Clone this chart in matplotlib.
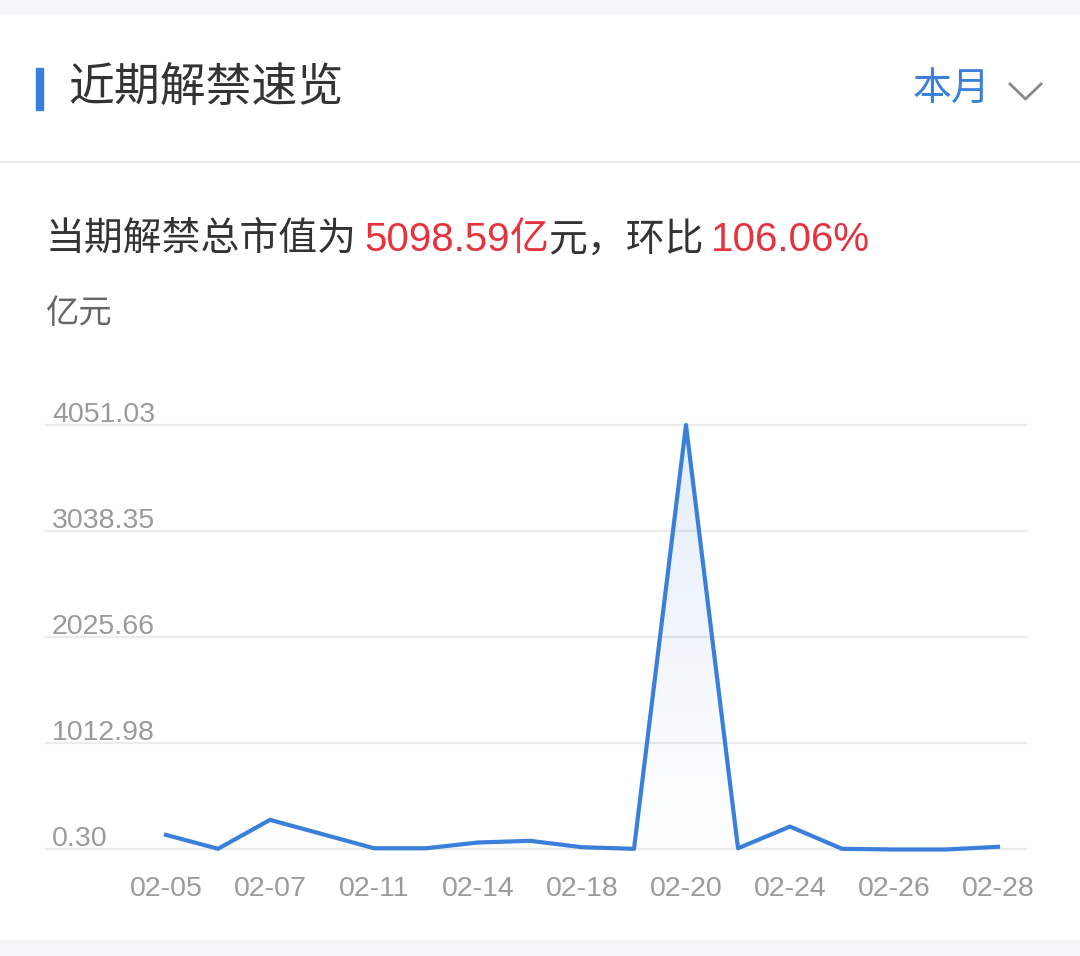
import matplotlib
matplotlib.use('Agg')
import matplotlib.pyplot as plt
import numpy as np
from matplotlib.patches import Rectangle
from matplotlib.lines import Line2D

# ---------------- data ----------------
dates = ['02-05', '02-06', '02-07', '02-10', '02-11', '02-13', '02-14', '02-17', '02-18',
         '02-19', '02-20', '02-21', '02-24', '02-25', '02-26', '02-27', '02-28']
values = [140, 7, 283, 148, 12, 12, 67, 83, 22, 7, 4051.03, 12, 219, 7, 0.30, 0.30, 26]
shown_labels = ['02-05', '02-07', '02-11', '02-14', '02-18', '02-20', '02-24', '02-26', '02-28']
y_ticks = [0.30, 1012.98, 2025.66, 3038.35, 4051.03]
y_tick_labels = ['0.30', '1012.98', '2025.66', '3038.35', '4051.03']
title = '近期解禁速览'
period = '本月'
unit = '亿元'
subtitle_parts = [('当期解禁总市值为', '#333333'), ('5098.59', '#e5323e'), ('亿', '#e5323e'),
                  ('元，环比', '#333333'), ('106.06%', '#e5323e')]

# ---------------- style ----------------
W, H = 1080, 956
BLUE = '#3a7fd9'
FAM = ['Liberation Sans', 'Noto Sans CJK SC', 'DejaVu Sans']
plt.rcParams['font.family'] = FAM

fig = plt.figure(figsize=(W / 100, H / 100), dpi=100)
fig.patch.set_facecolor('white')


def fx(x):
    return x / W


def fy(y):
    return 1 - y / H


# background strips
fig.patches.append(Rectangle((0, fy(13)), 1, 13 / H, transform=fig.transFigure,
                             color='#f5f6f8', zorder=0))
fig.patches.append(Rectangle((0, 0), 1, 16 / H, transform=fig.transFigure,
                             color='#f5f6f8', zorder=0))
# separator
fig.lines.append(Line2D([0, 1], [fy(162), fy(162)], transform=fig.transFigure,
                        color='#ececec', lw=1.5))
# header bar + title
fig.patches.append(Rectangle((fx(35.5), fy(110)), 7.5 / W, 42 / H, transform=fig.transFigure,
                             color=BLUE, zorder=2))
fig.text(fx(68), fy(90), title, fontsize=33, color='#333333', va='center', ha='left')
fig.text(fx(913), fy(90), period, fontsize=28, color=BLUE, va='center', ha='left')
fig.lines.append(Line2D([fx(1010), fx(1025.5), fx(1041)], [fy(84), fy(99), fy(84)],
                        transform=fig.transFigure, color='#8a8a8a', lw=2))

# subtitle (multi-colour)
renderer = fig.canvas.get_renderer()
xcur = 46
for txt, col in subtitle_parts:
    ascii_part = txt.isascii()
    if ascii_part:
        xcur += 7
    t = fig.text(xcur / W, fy(240), txt, fontsize=29 if ascii_part else 28, color=col,
                 va='center', ha='left')
    bb = t.get_window_extent(renderer)
    xcur = bb.x1

fig.text(fx(46), fy(314), unit, fontsize=24, color='#666666', va='center', ha='left')

# ---------------- chart ----------------
ax = fig.add_axes([fx(46), fy(849.5), 980 / W, 424.5 / H])
ax.set_facecolor('none')
x = np.arange(len(values))
xlim = (-120 / 52, 16 + 28 / 52)
ylim = (y_ticks[0], y_ticks[-1])

for t, lab in zip(y_ticks, y_tick_labels):
    ax.axhline(t, color='#ebebeb', lw=1.6, zorder=0, clip_on=False)
    ax.annotate(lab, xy=(0, t), xycoords=('axes fraction', 'data'), xytext=(6, 3),
                textcoords='offset pixels', ha='left', va='baseline',
                fontsize=20.5, color='#9a9a9a')

# gradient fill under line
poly = ax.fill_between(x, values, ylim[0], color='none', lw=0)
grad = np.zeros((256, 1, 4))
grad[:, 0, 0] = 0.23
grad[:, 0, 1] = 0.50
grad[:, 0, 2] = 0.85
grad[:, 0, 3] = np.linspace(0.0, 0.14, 256)
img = ax.imshow(grad, extent=[x[0], x[-1], ylim[0], ylim[1]], aspect='auto',
                origin='lower', zorder=1, interpolation='bilinear')
img.set_clip_path(poly.get_paths()[0], transform=ax.transData)

ax.plot(x, values, color=BLUE, lw=3, zorder=3, clip_on=False, solid_joinstyle='round')

for i, d in enumerate(dates):
    if d in shown_labels:
        ax.annotate(d, xy=(i, ylim[0]), xycoords='data', xytext=(0, -39),
                    textcoords='offset pixels', ha='center', va='center',
                    fontsize=20.5, color='#9a9a9a')

ax.set_xlim(*xlim)
ax.set_ylim(*ylim)
ax.axis('off')

fig.savefig('out.png', dpi=100, facecolor='white')
